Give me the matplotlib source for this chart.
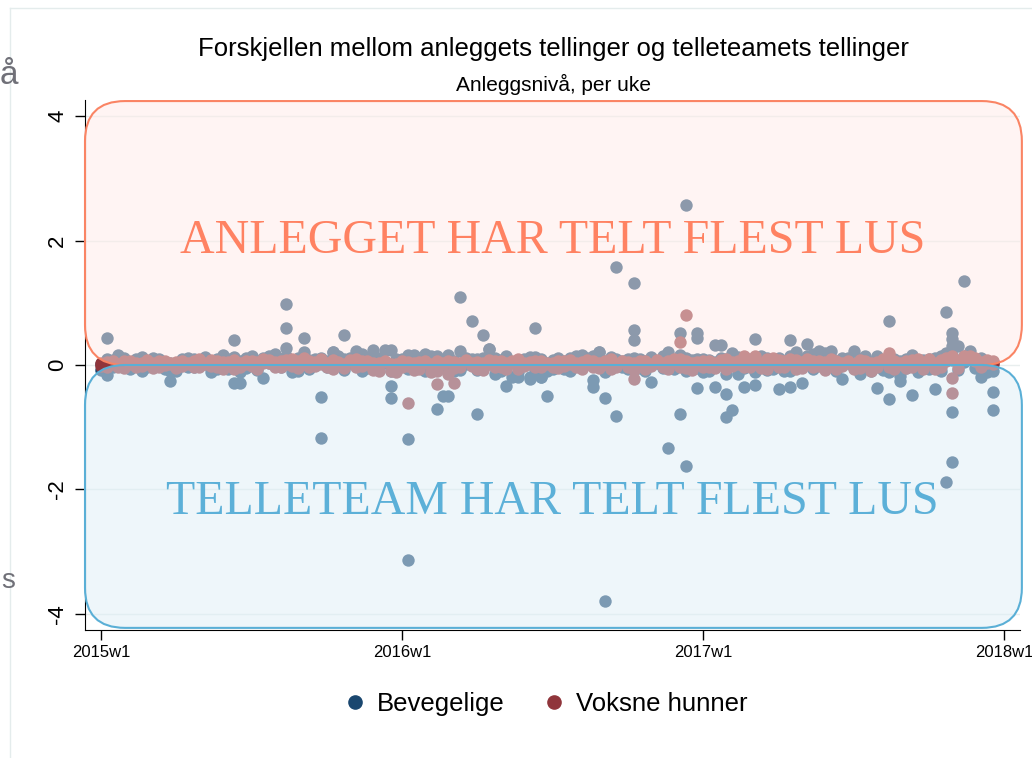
import matplotlib
matplotlib.use('Agg')
import matplotlib.pyplot as plt
from matplotlib.patches import FancyBboxPatch
from matplotlib.lines import Line2D

plt.rcParams['font.family'] = ['Liberation Sans', 'DejaVu Sans']

# weeks counted from 2015w1 (Stata weeks: 52 per year)
tick_weeks = [0, 52, 104, 156]
tick_labels = ['2015w1', '2016w1', '2017w1', '2018w1']
weeks = list(range(155))

# Bevegelige - values close to zero, two sites per week
bev_a = [0.02, -0.05, 0.08, 0.16, 0.04, -0.02, 0.1, 0.13, -0.04, 0.12, 0.03, 0.05, -0.1,
         0.02, 0.1, -0.03, 0.1, 0.05, 0.13, 0.07, -0.06, 0.16, 0.09, 0.04, -0.12, 0.11,
         0.15, -0.08, 0.12, 0.03, 0.18, 0.09, 0.15, 0.05, -0.1, 0.21, 0.08, 0.02, 0.12,
         0.07, 0.21, 0.14, 0.1, 0.04, 0.22, -0.09, 0.12, 0.24, 0.06, 0.24, 0.24, 0.1,
         0.05, 0.16, 0.16, 0.12, 0.17, 0.14, 0.14, 0.07, 0.1, -0.1, 0.22, 0.02, 0.09,
         -0.08, 0.12, 0.26, -0.14, 0.08, 0.03, -0.2, 0.06, 0.1, -0.2, 0.13, -0.2, -0.1,
         0.08, 0.05, -0.06, 0.11, 0.15, 0.16, 0.02, 0.15, 0.21, 0.07, 0.13, 0.05, -0.04,
         0.09, 0.12, -0.05, 0.06, 0.1, 0.03, 0.15, 0.21, -0.07, 0.05, 0.12, 0.02, 0.1,
         -0.12, 0.08, 0.32, 0.32, 0.1, 0.19, -0.15, 0.12, 0.06, 0.02, 0.15, -0.08, 0.1,
         0.05, -0.1, 0.14, 0.21, 0.08, 0.34, 0.18, 0.22, 0.2, 0.22, 0.06, 0.11, 0.03,
         0.22, -0.14, 0.15, 0.05, 0.1, -0.08, 0.12, 0.04, -0.18, 0.09, 0.16, 0.06, -0.05,
         0.1, 0.04, 0.14, 0.2, 0.08, 0.3, 0.15, 0.22, 0.1, 0.04, -0.12, 0.05]
bev_b = [-0.08, 0.1, -0.03, 0.05, 0.12, -0.06, 0.02, -0.09, 0.07, -0.02, 0.09, -0.07, 0.04,
         -0.1, 0.05, 0.11, -0.04, 0.08, 0.02, -0.11, 0.09, 0.04, -0.07, 0.13, 0.06, -0.05,
         0.1, 0.04, -0.21, 0.15, 0.05, -0.04, 0.08, -0.12, 0.11, 0.03, -0.07, 0.09, 0.05,
         -0.03, 0.1, 0.05, -0.08, 0.12, 0.07, 0.18, -0.05, 0.09, 0.12, 0.04, -0.1, -0.05,
         0.1, -0.06, 0.13, 0.05, -0.1, 0.08, 0.12, -0.04, 0.16, 0.06, -0.08, 0.11, 0.04,
         0.1, -0.05, 0.07, 0.12, -0.09, 0.15, 0.05, -0.12, 0.08, 0.13, -0.06, 0.09, 0.04,
         -0.07, 0.12, 0.06, -0.1, 0.09, -0.04, 0.12, 0.05, 0.09, -0.12, 0.04, 0.1, 0.07,
         -0.06, 0.04, 0.1, -0.09, 0.13, 0.06, -0.05, 0.1, 0.04, 0.16, -0.1, 0.08, -0.05,
         0.1, -0.09, 0.05, 0.12, -0.14, 0.08, 0.13, -0.05, 0.09, -0.11, 0.06, 0.12, -0.07,
         0.12, 0.06, -0.09, 0.1, 0.04, 0.15, -0.06, 0.12, 0.05, 0.09, -0.1, 0.07, 0.12,
         -0.05, 0.1, 0.06, -0.1, 0.14, 0.05, -0.12, 0.1, 0.07, -0.05, 0.1, -0.12, 0.08,
         -0.06, 0.12, -0.1, 0.09, 0.16, -0.08, 0.05, 0.1, -0.05, 0.12, 0.03, -0.1]
# Bevegelige - the larger differences
bev_out_week = [1, 1, 12, 23, 23, 24, 32, 32, 32, 35, 38, 38, 42, 40, 50, 50, 53, 53,
                58, 59, 60, 62, 64, 65, 66, 67, 70, 72, 74, 75, 76, 77, 85, 85, 86, 87,
                87, 89, 89, 92, 92, 92, 95, 98, 100, 100, 101, 101, 103, 103, 103, 106,
                108, 108, 109, 111, 113, 113, 117, 119, 119, 121, 128, 134, 136, 136,
                138, 140, 144, 146, 146, 147, 147, 147, 147, 147, 149, 152, 154, 154]
bev_out_val = [0.43, -0.16, -0.25, 0.4, -0.29, -0.29, 0.98, 0.6, 0.27, 0.43, -0.51, -1.17,
               0.48, 0.21, -0.34, -0.53, -1.19, -3.14, -0.71, -0.5, -0.5, 1.1, 0.7, -0.79,
               0.48, 0.26, -0.34, -0.2, -0.22, 0.6, -0.2, -0.5, -0.24, -0.35, 0.21, -0.53,
               -3.8, 1.57, -0.82, 1.32, 0.56, 0.4, -0.27, -1.33, 0.51, -0.79, 2.58, -1.63,
               0.51, 0.43, -0.37, -0.35, -0.47, -0.84, -0.72, -0.35, 0.42, -0.32, -0.39,
               0.4, -0.35, -0.29, -0.23, -0.37, 0.71, -0.55, -0.25, -0.48, -0.39, 0.85,
               -1.88, 0.51, 0.42, 0.31, -0.75, -1.56, 1.35, -0.19, -0.43, -0.72]

# Voksne hunner - values close to zero, two sites per week
hun_a = [-0.02, 0.05, 0.03, -0.04, 0.06, 0.01, -0.03, 0.04, 0.02, -0.05, 0.07, 0.0, 0.03,
         0.05, -0.02, 0.04, 0.06, -0.04, 0.02, 0.08, -0.03, 0.05, 0.01, -0.06, 0.04, 0.07,
         -0.02, 0.05, 0.03, 0.08, -0.04, 0.06, 0.02, 0.1, -0.05, 0.04, 0.07, -0.02, 0.09,
         0.03, -0.06, 0.05, 0.02, 0.08, -0.03, 0.06, 0.01, -0.08, 0.04, 0.06, -0.1, 0.02,
         -0.04, 0.05, 0.03, -0.07, 0.06, 0.02, -0.1, 0.04, 0.07, -0.05, 0.03, 0.06, -0.02,
         0.05, -0.08, 0.02, 0.06, -0.04, 0.03, 0.07, -0.06, 0.04, 0.02, -0.03, 0.06, 0.01,
         0.04, -0.05, 0.07, 0.02, -0.03, 0.05, 0.08, -0.04, 0.03, 0.06, -0.07, 0.02, 0.05,
         -0.03, 0.04, 0.07, -0.06, 0.02, 0.05, -0.04, 0.06, 0.03, 0.09, -0.05, 0.04, 0.02,
         0.06, -0.04, 0.03, 0.08, -0.06, 0.05, 0.02, -0.03, 0.07, 0.04, -0.05, 0.1, 0.03,
         -0.04, 0.06, 0.03, 0.08, -0.05, 0.04, 0.07, -0.02, 0.05, 0.1, -0.06, 0.03, 0.06,
         0.02, -0.05, 0.07, 0.04, -0.03, 0.08, 0.05, -0.07, 0.03, 0.06, -0.04, 0.09, 0.02,
         0.05, -0.06, 0.08, 0.12, 0.1, 0.06, 0.14, 0.09, 0.12, 0.05, 0.08, 0.02]
hun_b = [0.04, -0.03, 0.07, 0.02, -0.05, 0.06, 0.03, -0.02, 0.08, 0.04, -0.04, 0.06, 0.02,
         -0.05, 0.07, 0.01, -0.03, 0.09, 0.04, -0.02, 0.06, -0.07, 0.05, 0.08, -0.03, 0.02,
         0.06, -0.06, 0.09, 0.03, 0.05, -0.03, 0.08, -0.02, 0.06, 0.11, -0.04, 0.05, 0.02,
         -0.04, 0.08, 0.02, -0.05, 0.06, 0.1, -0.02, 0.07, 0.03, -0.09, 0.05, 0.02, -0.12,
         0.06, -0.02, -0.08, 0.05, 0.03, -0.12, 0.06, 0.02, -0.15, 0.05, -0.03, 0.08, 0.04,
         -0.06, 0.04, 0.08, -0.03, 0.06, -0.07, 0.03, 0.09, -0.02, 0.05, 0.07, -0.04, 0.03,
         -0.03, 0.06, -0.02, 0.08, 0.04, -0.06, 0.03, 0.07, -0.05, 0.02, 0.09, -0.03, 0.06,
         0.05, -0.08, 0.03, 0.06, -0.02, 0.08, 0.04, -0.06, 0.1, -0.03, 0.06, -0.08, 0.05,
         -0.03, 0.07, -0.05, 0.04, 0.09, -0.02, 0.06, 0.15, -0.04, 0.08, 0.03, -0.06, 0.12,
         0.08, -0.03, 0.1, -0.06, 0.05, 0.09, -0.03, 0.06, -0.08, 0.04, 0.07, -0.02, 0.05,
         -0.06, 0.08, 0.03, -0.09, 0.05, 0.1, -0.04, 0.06, 0.02, -0.05, 0.08, 0.04, -0.07,
         0.09, 0.03, -0.04, 0.06, 0.15, -0.05, 0.1, 0.15, 0.07, -0.03, 0.04, 0.06]
hun_out_week = [53, 58, 61, 92, 100, 101, 113, 136, 147, 147]
hun_out_val = [-0.61, -0.31, -0.29, -0.23, 0.37, 0.8, 0.15, 0.19, -0.21, -0.45]

navy = '#1a476f'
maroon = '#90353b'

fig = plt.figure(figsize=(10.32, 7.58), dpi=100)
ax = fig.add_axes([85/1032, 1 - 630/758, 935/1032, 530/758])

for y in [-4, -2, 0, 2, 4]:
    ax.axhline(y, color='#e8eeee', lw=1, zorder=0)

ax.scatter(weeks + weeks + bev_out_week, bev_a + bev_b + bev_out_val,
           s=80, color=navy, lw=0, zorder=2)
ax.scatter(weeks + weeks + hun_out_week, hun_a + hun_b + hun_out_val,
           s=80, color=maroon, lw=0, zorder=3)

asp = 935/530
r = 40/935
top_box = FancyBboxPatch((0, 0.5), 1.002, 0.498, boxstyle='round,pad=0,rounding_size=%f' % r,
                         mutation_aspect=asp, transform=ax.transAxes,
                         facecolor=(1.0, 0.92, 0.91, 0.5), edgecolor='#fa8464', lw=1.5,
                         clip_on=False, zorder=4)
bot_box = FancyBboxPatch((0, 0.004), 1.002, 0.496, boxstyle='round,pad=0,rounding_size=%f' % r,
                         mutation_aspect=asp, transform=ax.transAxes,
                         facecolor=(0.87, 0.935, 0.97, 0.5), edgecolor='#5aafd6', lw=1.5,
                         clip_on=False, zorder=4)
ax.add_patch(top_box)
ax.add_patch(bot_box)

ax.text(78, 2.0, 'ANLEGGET HAR TELT FLEST LUS', color='#ff8262', fontsize=34.5,
        family='Liberation Serif', ha='center', va='center', zorder=5)
ax.text(78, -2.2, 'TELLETEAM HAR TELT FLEST LUS', color='#5cb0d8', fontsize=34.5,
        family='Liberation Serif', ha='center', va='center', zorder=5)

ax.set_xlim(-2.76, 158.7)
ax.set_ylim(-4.26, 4.26)
ax.set_xticks(tick_weeks)
ax.set_xticklabels(tick_labels, fontsize=12)
ax.set_yticks([-4, -2, 0, 2, 4])
ax.set_yticklabels(['-4', '-2', '0', '2', '4'], fontsize=16, rotation=90, va='center')
ax.tick_params(axis='both', length=7, width=1, color='black')
ax.tick_params(axis='x', pad=4)
ax.tick_params(axis='y', pad=5)
for s in ['top', 'right']:
    ax.spines[s].set_visible(False)
ax.patch.set_alpha(0)

fig.text(553/1032, 1 - 49/758, 'Forskjellen mellom anleggets tellinger og telleteamets tellinger',
         fontsize=18.5, ha='center', va='center')
fig.text(553/1032, 1 - 84/758, 'Anleggsnivå, per uke', fontsize=15, ha='center', va='center')

h1 = Line2D([], [], marker='o', ls='', color=navy, markersize=9.5)
h2 = Line2D([], [], marker='o', ls='', color=maroon, markersize=9.5)
fig.legend([h1, h2], ['Bevegelige', 'Voksne hunner'], loc='center', ncol=2,
           bbox_to_anchor=(546/1032, 1 - 704/758), frameon=False, fontsize=18.5,
           handletextpad=0.45, columnspacing=1.55, handlelength=0.8,
           borderpad=0, borderaxespad=0)

# edge of a neighbouring panel
fig.add_artist(Line2D([10/1032, 10/1032], [0, 1 - 8/758], color='#e4ecec', lw=1))
fig.add_artist(Line2D([10/1032, 1], [1 - 8/758, 1 - 8/758], color='#e4ecec', lw=1))
fig.text(0, 1 - 75/758, 'å', fontsize=24, color='#707078', ha='left', va='center')
fig.text(1/1032, 1 - 581/758, 's', fontsize=20, color='#707078', ha='left', va='center')

fig.savefig('out.png', dpi=100)
